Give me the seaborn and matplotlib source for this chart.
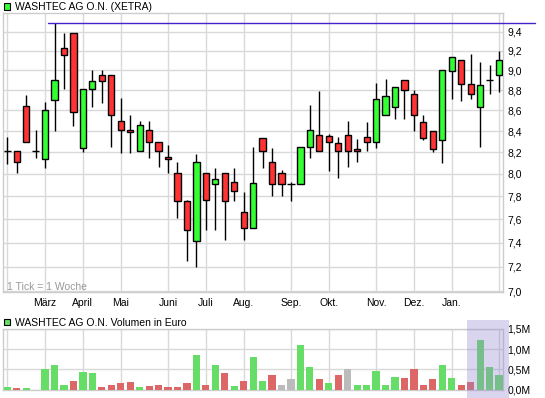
import matplotlib
matplotlib.use("Agg")
import matplotlib.pyplot as plt
import matplotlib.ticker as mticker
from matplotlib.patches import Rectangle
import numpy as np
import pandas as pd
import seaborn as sns

# ---------------- data ----------------
title = "WASHTEC AG O.N. (XETRA)"
vol_title = "WASHTEC AG O.N. Volumen in Euro"
tick_note = "1 Tick = 1 Woche"

month_pos = [4, 8, 12, 17, 21, 25, 30, 34, 39, 43, 47]
month_labels = ["März", "April", "Mai", "Juni", "Juli", "Aug.", "Sep.", "Okt.", "Nov.", "Dez.", "Jan."]
grid_pos = [0] + month_pos + [52]

price_ticks = [7.0, 7.2, 7.4, 7.6, 7.8, 8.0, 8.2, 8.4, 8.6, 8.8, 9.0, 9.2, 9.4]
high_line = 9.5

opens = [8.21, 8.21, 8.64, 8.21, 8.14, 8.70, 9.23, 9.39, 8.24, 8.81,
         8.95, 8.95, 8.50, 8.41, 8.21, 8.41, 8.30, 8.16, 8.01, 7.76,
         7.41, 8.01, 7.91, 8.01, 7.93, 7.66, 7.52, 8.33, 8.11, 8.01,
         7.91, 7.91, 8.25, 8.36, 8.35, 8.29, 8.36, 8.23, 8.34, 8.30,
         8.55, 8.63, 8.90, 8.76, 8.49, 8.40, 8.31, 8.99, 9.11, 8.86,
         8.63, 8.90, 8.95]
highs = [8.34, 8.21, 8.75, 8.41, 8.68, 9.50, 9.39, 9.39, 8.81, 9.00,
         9.00, 8.95, 8.72, 8.55, 8.50, 8.50, 8.30, 8.27, 8.11, 7.77,
         8.18, 8.01, 8.05, 8.01, 8.05, 7.84, 8.25, 8.33, 8.24, 8.04,
         7.93, 8.25, 8.65, 8.79, 8.37, 8.34, 8.50, 8.32, 8.49, 8.87,
         8.91, 8.83, 8.90, 8.80, 8.55, 8.40, 9.00, 9.14, 9.11, 9.17,
         9.08, 9.05, 9.20]
lows = [8.09, 8.01, 8.30, 8.15, 8.05, 8.40, 8.81, 8.45, 8.20, 8.63,
        8.67, 8.25, 8.19, 8.19, 8.21, 8.15, 8.06, 8.01, 7.61, 7.25,
        7.20, 7.51, 7.51, 7.42, 7.76, 7.42, 7.52, 8.05, 7.80, 7.80,
        7.76, 7.91, 8.15, 8.21, 8.03, 7.96, 8.06, 8.11, 8.21, 8.24,
        8.55, 8.52, 8.52, 8.40, 8.31, 8.20, 8.10, 8.71, 8.69, 8.71,
        8.25, 8.76, 8.78]
closes = [8.21, 8.11, 8.30, 8.21, 8.60, 8.90, 9.16, 8.58, 8.81, 8.89,
          8.89, 8.55, 8.41, 8.39, 8.46, 8.30, 8.21, 8.14, 7.76, 7.51,
          8.11, 7.77, 7.95, 7.76, 7.85, 7.52, 7.92, 8.21, 7.91, 7.91,
          7.91, 8.25, 8.41, 8.21, 8.30, 8.21, 8.21, 8.21, 8.30, 8.71,
          8.74, 8.83, 8.80, 8.55, 8.33, 8.23, 9.00, 9.14, 8.86, 8.76,
          8.85, 8.90, 9.11]

volume_m = [0.05, 0.03, 0.03, 0.00, 0.52, 0.60, 0.10, 0.22, 0.43, 0.40,
            0.05, 0.12, 0.15, 0.18, 0.05, 0.08, 0.12, 0.05, 0.05, 0.15,
            0.85, 0.10, 0.60, 0.40, 0.08, 0.22, 0.80, 0.20, 0.35, 0.12,
            0.25, 1.10, 0.55, 0.27, 0.15, 0.35, 0.52, 0.10, 0.10, 0.45,
            0.12, 0.30, 0.28, 0.52, 0.12, 0.25, 0.60, 0.28, 0.10, 0.18,
            1.22, 0.55, 0.35]
volume_dir = ["up", "down", "up", "flat", "up", "up", "up", "down", "up", "up",
              "down", "down", "down", "down", "up", "down", "down", "down", "down", "down",
              "up", "down", "up", "down", "up", "down", "up", "up", "down", "flat",
              "flat", "up", "up", "down", "up", "down", "flat", "up", "up", "up",
              "up", "up", "down", "down", "down", "down", "up", "up", "down", "down",
              "up", "up", "up"]
vol_ticks_m = [0.0, 0.5, 1.0, 1.5]

# ---------------- style ----------------
sns.set_theme(style="white")
plt.rcParams['font.family'] = ['Liberation Sans', 'DejaVu Sans']

GRID = '#d9d9d9'
RED = '#ff3333'
GREEN = '#33ff33'
W, H = 545, 398

fig = plt.figure(figsize=(W / 100, H / 100), dpi=100)
fig.patch.set_facecolor('white')
ax = fig.add_axes([3 / W, 1 - 292 / H, 500 / W, 279 / H])
axv = fig.add_axes([3 / W, 1 - 389.5 / H, 500 / W, 60.5 / H])

df = pd.DataFrame({"o": opens, "h": highs, "l": lows, "c": closes})
df["idx"] = np.arange(len(df))

# ---------------- candles ----------------
ax.set_yscale('log')
ax.vlines(df["idx"], df["l"], df["h"], color='black', lw=1, zorder=3)
body = df[df["o"] != df["c"]]
bcol = np.where(body["c"] > body["o"], GREEN, RED)
ax.bar(body["idx"], (body["c"] - body["o"]).abs(), bottom=np.minimum(body["o"], body["c"]),
       width=0.66, color=bcol, edgecolor='black', linewidth=1, zorder=4)
doji = df[df["o"] == df["c"]]
ax.hlines(doji["c"], doji["idx"] - 0.38, doji["idx"] + 0.38, color='black', lw=1, zorder=4)

ax.axhline(high_line, xmin=0.089, xmax=1.064, color='#4422cc', lw=1, clip_on=False, zorder=5)

ax.set_xlim(-0.45, 52.42)
ax.set_ylim(6.996, 9.605)
ax.yaxis.set_major_locator(mticker.FixedLocator(price_ticks))
ax.yaxis.set_minor_locator(mticker.NullLocator())
ax.yaxis.set_major_formatter(mticker.FuncFormatter(lambda v, p: f"{v:.1f}".replace('.', ',')))
ax.yaxis.tick_right()
ax.set_xticks(grid_pos)
ax.set_xticklabels([""] + month_labels + [""])
ax.tick_params(axis='both', length=0, labelsize=7.5, colors='black')
ax.tick_params(axis='y', pad=3)
ax.tick_params(axis='x', pad=4)
ax.grid(True, color=GRID, lw=1, zorder=0)
ax.set_axisbelow(True)
for s in ax.spines.values():
    s.set_color('#cccccc')
    s.set_linewidth(1)
ax.text(7 / W, 1 - 290 / H, tick_note, transform=fig.transFigure, fontsize=7.5,
        color='#999999', va='baseline', ha='left')

# ---------------- volume ----------------
vdf = pd.DataFrame({"idx": np.arange(len(volume_m)),
                    "vol": np.array(volume_m) * 1e6,
                    "dir": volume_dir})
pal = {"up": '#66dd66', "down": '#dd6666', "flat": '#bbbbbb'}
sns.barplot(data=vdf, x="idx", y="vol", hue="dir", palette=pal, dodge=False,
            width=0.76, saturation=1, linewidth=0, legend=False, ax=axv, zorder=3)
axv.set_xlim(-0.45, 52.42)
axv.set_ylim(0, 1.5e6)
axv.set_xlabel("")
axv.set_ylabel("")
axv.set_xticks(grid_pos)
axv.set_xticklabels([""] * len(grid_pos))
axv.set_yticks([v * 1e6 for v in vol_ticks_m])
axv.set_yticklabels([f"{v:.1f}".replace('.', ',') + "M" for v in vol_ticks_m])
axv.yaxis.tick_right()
axv.tick_params(axis='both', length=0, labelsize=7.5, colors='black')
axv.tick_params(axis='y', pad=3)
axv.grid(True, color=GRID, lw=1, zorder=0)
axv.set_axisbelow(True)
for s in axv.spines.values():
    s.set_color('#cccccc')
    s.set_linewidth(1)

# ---------------- titles / legends ----------------
fig.add_artist(Rectangle((3.5 / W, 1 - 9.5 / H), 6.5 / W, 6.5 / H, transform=fig.transFigure,
                         fc=GREEN, ec='black', lw=0.8))
fig.text(15 / W, 1 - 10.5 / H, title, fontsize=7.5, va='baseline', ha='left', color='black')
fig.add_artist(Rectangle((3.5 / W, 1 - 325 / H), 6.5 / W, 6.5 / H, transform=fig.transFigure,
                         fc='#66dd66', ec='black', lw=0.8))
fig.text(15 / W, 1 - 325.5 / H, vol_title, fontsize=7.5, va='baseline', ha='left', color='black')

# highlight box over the latest weeks
fig.add_artist(Rectangle((467 / W, 0), 42 / W, 78 / H, transform=fig.transFigure,
                         fc=(150 / 255, 135 / 255, 210 / 255), alpha=0.35, ec='none', zorder=10))

fig.savefig("out.png", dpi=100, facecolor='white')
